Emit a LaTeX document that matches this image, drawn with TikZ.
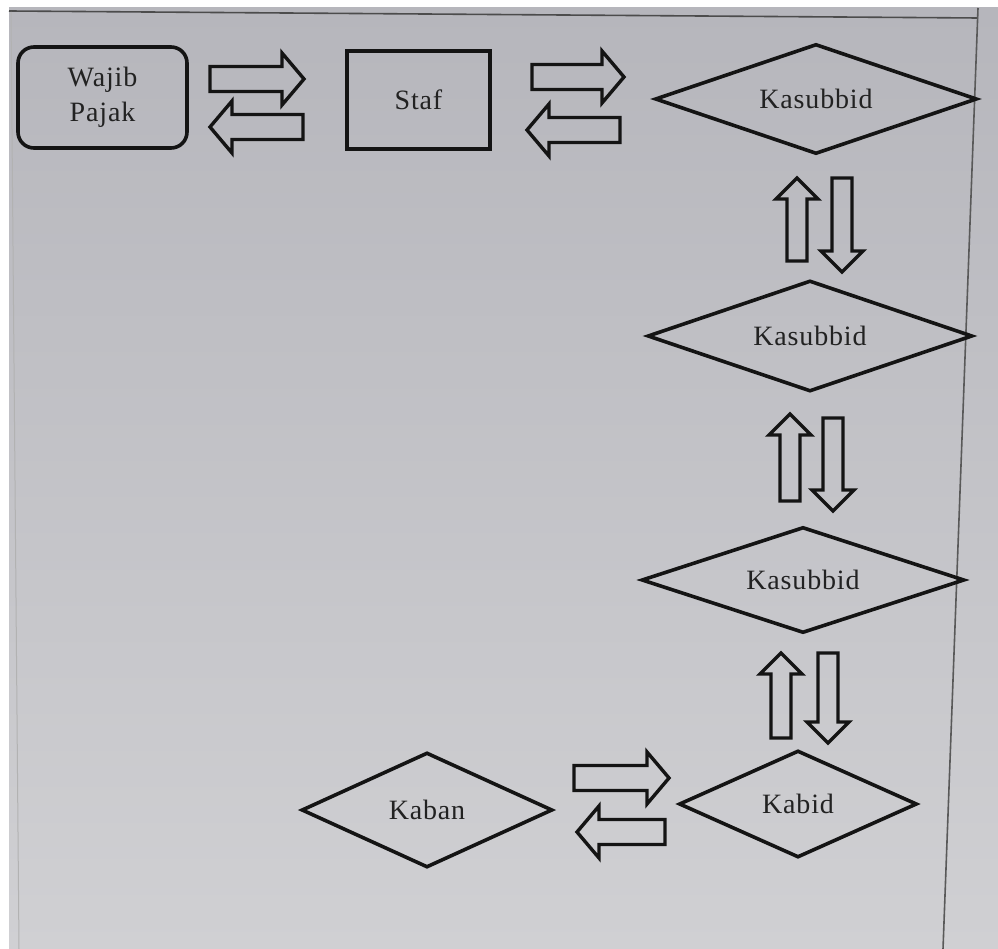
\documentclass[tikz,border=0pt]{standalone}
\usepackage{fontspec}
\setmainfont{Liberation Serif}[LetterSpace=3]
\usetikzlibrary{shapes.geometric}
\definecolor{paperTop}{HTML}{B6B6BC}
\definecolor{paperBot}{HTML}{D0D0D3}
\definecolor{ink}{HTML}{141414}
\definecolor{txt}{HTML}{222222}
\tikzset{
  base/.style={draw=ink, line width=3.6pt, text=txt, inner sep=0pt,
    font=\fontsize{28}{35}\selectfont, align=center},
  boxnode/.style={base, rectangle},
  roundnode/.style={base, rectangle, rounded corners=16pt},
  dianode/.style={base, diamond, aspect=3},
  blk/.style={draw=ink, line width=3.4pt, line join=miter},
  frame/.style={draw=#1, line width=1.6pt}
}
\newcommand\harr[3]{%
  \pgfmathsetmacro\hb{#2-sign(#2-#1)*22}%
  \draw[blk] (#1,#3-12.5) -- (\hb,#3-12.5) -- (\hb,#3-26) -- (#2,#3) -- (\hb,#3+26) -- (\hb,#3+12.5) -- (#1,#3+12.5) -- cycle;}
\newcommand\varr[3]{%
  \pgfmathsetmacro\vb{#3-sign(#3-#2)*21}%
  \draw[blk] (#1-10,#2) -- (#1-10,\vb) -- (#1-21,\vb) -- (#1,#3) -- (#1+21,\vb) -- (#1+10,\vb) -- (#1+10,#2) -- cycle;}
\begin{document}
\begin{tikzpicture}[x=1pt,y=-1pt]
\useasboundingbox (0,0) rectangle (998,949);
% paper
\fill[white] (0,0) rectangle (998,949);
\shade[top color=paperTop, bottom color=paperBot] (9,8) rectangle (998,949);
\draw[frame=black!70] (9,11) -- (978,18);
\draw[frame=black!65] (978,8) -- (943,949);
\draw[frame=black!30, line width=1pt] (11,12) -- (19,949);
% nodes
\node[roundnode, minimum width=169pt, minimum height=101pt] (wp) at (102.5,97.5) {Wajib\\Pajak};
\node[boxnode, minimum width=143pt, minimum height=98pt] (staf) at (418.5,100) {Staf};
\node[dianode, minimum width=322pt, minimum height=110pt] (k1) at (816,99) {Kasubbid};
\node[dianode, minimum width=325pt, minimum height=111pt] (k2) at (810,336) {Kasubbid};
\node[dianode, minimum width=323pt, minimum height=106pt] (k3) at (803,580) {Kasubbid};
\node[dianode, minimum width=238pt, minimum height=107pt] (kabid) at (798,804) {Kabid};
\node[dianode, minimum width=251pt, minimum height=115pt] (kaban) at (427,810) {Kaban};
% block arrows
\harr{210}{304}{79}
\harr{303}{210}{127}
\harr{532}{624}{77}
\harr{620}{527}{130}
\varr{797}{261}{178}
\varr{842}{178}{272}
\varr{790}{501}{414}
\varr{833}{418}{511}
\varr{781}{738}{653}
\varr{828}{653}{743}
\harr{574}{669}{778}
\harr{665}{577}{832}
\end{tikzpicture}
\end{document}
